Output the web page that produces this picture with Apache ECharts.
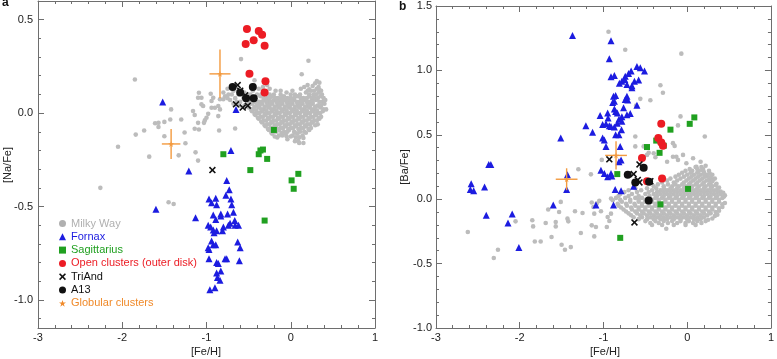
<!DOCTYPE html>
<html><head><meta charset="utf-8">
<script src="https://cdn.jsdelivr.net/npm/echarts@6/dist/echarts.min.js"></script>
<style>html,body{margin:0;padding:0;background:#fff}#c{width:777px;height:359px}</style>
</head><body><div id="c"></div>
<script>
// ---------------- DATA ----------------
const seriesNames = ['Milky Way','Fornax','Sagittarius','Open clusters (outer disk)','TriAnd','A13','Globular clusters'];
const xTicks = [-3,-2,-1,0,1];
const yTicksA = [-1.0,-0.5,0.0,0.5];
const yMinorTicksA = [-1.1,-1.0,-0.9,-0.8,-0.7,-0.6,-0.5,-0.4,-0.3,-0.2,-0.1,0.0,0.1,0.2,0.3,0.4,0.5,0.6];
const yTicksB = [-1.0,-0.5,0.0,0.5,1.0,1.5];

// Panel a: [Fe/H], [Na/Fe]
const milkyWayA = [
 [-2.26,-0.40],[-2.05,-0.18],[-1.85,0.18],[-1.84,-0.115],[-1.74,-0.093],[-1.68,-0.233],[-1.61,-0.054],[-1.57,-0.052],
 [-1.57,-0.074],[-1.50,-0.124],[-1.50,-0.047],[-1.45,-0.477],[-1.39,-0.486],[-1.42,0.02],[-1.43,-0.034],[-1.30,-0.034],
 [-1.33,-0.226],[-1.26,-0.104],[-1.25,-0.161],[-1.16,0.011],[-1.14,-0.01],[-1.14,-0.084],[-1.13,-0.21],[-1.10,-0.254],
 [-1.10,-0.052],[-1.09,-0.088],[-1.09,0.109],[-1.10,0.082],[-1.06,0.082],[-1.06,0.047],[-1.04,0.038],[-1.03,-0.052],
 [-1.02,-0.039],[-1.00,-0.025],[-0.98,-0.004],[-0.95,0.104],[-0.94,0.065],[-0.94,0.029],[-0.92,0.082],[-0.90,0.029],
 [-0.86,-0.016],[-0.86,0.038],[-0.84,0.074],[-0.84,0.02],[-0.85,-0.093],[-0.80,0.074],[-0.66,-0.082],[-0.59,0.289],
 [-0.43,0.176],[-0.44,0.15],[0.13,0.208],[0.21,0.28],[0.31,0.172],[0.34,0.163],[0.22,0.127],[0.15,-0.133],[0.05,-0.15],
 [0.09,-0.15],[-0.05,-0.124],
 [-0.28,0.15],[0.20,0.15],[0.29,0.16],[0.33,0.14],
 [-0.75,0.13],[-0.62,0.12],[-0.38,0.13],[-0.25,0.13],[-0.12,0.12],[0.12,0.13],[0.24,0.12],[0.31,0.13],[0.36,0.12],
 [-0.80,0.11],[-0.70,0.10],[-0.55,0.11],[-0.40,0.10],[-0.30,0.11],[-0.20,0.10],[-0.05,0.11],[0.05,0.10],[0.18,0.11],[0.27,0.10],[0.33,0.11],
 [-0.78,0.09],[-0.66,0.08],[-0.48,0.09],[-0.36,0.09],[-0.28,0.08],[-0.22,0.09],[-0.15,0.08],[-0.08,0.09],[0.00,0.08],[0.08,0.09],[0.15,0.08],[0.22,0.09],[0.28,0.08],[0.35,0.09],
 [-0.72,0.07],[-0.60,0.06],[-0.45,0.07],[-0.38,0.06],[-0.32,0.07],[-0.26,0.06],[-0.20,0.07],[-0.14,0.06],[-0.08,0.07],[-0.02,0.06],[0.04,0.07],[0.10,0.06],[0.16,0.07],[0.22,0.06],[0.30,0.07],[0.38,0.06],
 [-0.68,0.05],[-0.55,0.04],[-0.46,0.05],[-0.40,0.04],[-0.34,0.05],[-0.28,0.04],[-0.22,0.05],[-0.16,0.04],[-0.10,0.05],[-0.04,0.04],[0.02,0.05],[0.08,0.04],[0.14,0.05],[0.20,0.04],[0.26,0.05],[0.32,0.04],[0.40,0.05],
 [-0.50,0.03],[-0.44,0.02],[-0.38,0.03],[-0.32,0.02],[-0.26,0.03],[-0.20,0.02],[-0.14,0.03],[-0.08,0.02],[-0.02,0.03],[0.04,0.02],[0.10,0.03],[0.16,0.02],[0.22,0.03],[0.28,0.02],[0.35,0.03],[0.42,0.02],
 [-0.46,0.01],[-0.40,0.00],[-0.34,0.01],[-0.28,0.00],[-0.22,0.01],[-0.16,0.00],[-0.10,0.01],[-0.04,0.00],[0.02,0.01],[0.08,0.00],[0.14,0.01],[0.20,0.00],[0.26,0.01],[0.32,0.00],[0.38,0.01],
 [-0.42,-0.01],[-0.36,-0.02],[-0.30,-0.01],[-0.24,-0.02],[-0.18,-0.01],[-0.12,-0.02],[-0.06,-0.01],[0.00,-0.02],[0.06,-0.01],[0.12,-0.02],[0.18,-0.01],[0.24,-0.02],[0.30,-0.01],[0.36,-0.02],
 [-0.38,-0.03],[-0.32,-0.04],[-0.26,-0.03],[-0.20,-0.04],[-0.14,-0.03],[-0.08,-0.04],[-0.02,-0.03],[0.04,-0.04],[0.10,-0.03],[0.16,-0.04],[0.22,-0.03],[0.28,-0.04],[0.34,-0.03],
 [-0.34,-0.05],[-0.28,-0.06],[-0.22,-0.05],[-0.16,-0.06],[-0.10,-0.05],[-0.04,-0.06],[0.02,-0.05],[0.08,-0.06],[0.14,-0.05],[0.20,-0.06],[0.26,-0.05],[0.32,-0.06],
 [-0.30,-0.07],[-0.24,-0.08],[-0.18,-0.07],[-0.12,-0.08],[-0.06,-0.07],[0.00,-0.08],[0.06,-0.07],[0.12,-0.08],[0.18,-0.07],[0.24,-0.08],
 [-0.26,-0.09],[-0.20,-0.10],[-0.14,-0.09],[-0.08,-0.10],[-0.02,-0.09],[0.04,-0.10],[0.10,-0.09],[0.16,-0.10],[0.22,-0.09],
 [-0.22,-0.11],[-0.14,-0.12],[-0.06,-0.11],[0.02,-0.12],[0.08,-0.11],[0.14,-0.12],
 [-0.16,-0.13],[-0.04,-0.14],[0.06,-0.13],[0.10,-0.16],[0.15,-0.16],
 [-0.70,0.14],[-0.33,0.14],[0.16,0.14],[0.26,0.145],
 [-0.68,0.12],[-0.45,0.12],[-0.33,0.12],[-0.18,0.12],[0.02,0.12],[0.20,0.12],[0.28,0.12],[0.34,0.125],
 [-0.74,0.10],[-0.62,0.10],[-0.48,0.10],[-0.35,0.10],[-0.25,0.10],[-0.12,0.10],[0.00,0.10],[0.11,0.10],[0.22,0.10],[0.30,0.10],[0.37,0.10],
 [-0.75,0.08],[-0.56,0.08],[-0.42,0.08],[-0.32,0.08],[-0.25,0.08],[-0.18,0.08],[-0.11,0.08],[-0.04,0.08],[0.04,0.08],[0.12,0.08],[0.19,0.08],[0.25,0.08],[0.32,0.08],[0.39,0.08],
 [-0.64,0.06],[-0.50,0.06],[-0.42,0.06],[-0.35,0.06],[-0.29,0.06],[-0.23,0.06],[-0.17,0.06],[-0.11,0.06],[-0.05,0.06],[0.01,0.06],[0.07,0.06],[0.13,0.06],[0.19,0.06],[0.26,0.06],[0.34,0.06],[0.41,0.07],
 [-0.61,0.04],[-0.50,0.04],[-0.43,0.035],[-0.37,0.04],[-0.31,0.035],[-0.25,0.04],[-0.19,0.035],[-0.13,0.04],[-0.07,0.035],[-0.01,0.04],[0.05,0.035],[0.11,0.04],[0.17,0.035],[0.23,0.04],[0.29,0.035],[0.36,0.04],
 [-0.47,0.02],[-0.41,0.015],[-0.35,0.02],[-0.29,0.015],[-0.23,0.02],[-0.17,0.015],[-0.11,0.02],[-0.05,0.015],[0.01,0.02],[0.07,0.015],[0.13,0.02],[0.19,0.015],[0.25,0.02],[0.31,0.015],[0.39,0.02],
 [-0.43,-0.005],[-0.37,0.0],[-0.31,-0.005],[-0.25,0.0],[-0.19,-0.005],[-0.13,0.0],[-0.07,-0.005],[-0.01,0.0],[0.05,-0.005],[0.11,0.0],[0.17,-0.005],[0.23,0.0],[0.29,-0.005],[0.35,0.0],
 [-0.39,-0.025],[-0.33,-0.02],[-0.27,-0.025],[-0.21,-0.02],[-0.15,-0.025],[-0.09,-0.02],[-0.03,-0.025],[0.03,-0.02],[0.09,-0.025],[0.15,-0.02],[0.21,-0.025],[0.27,-0.02],[0.33,-0.025],
 [-0.35,-0.045],[-0.29,-0.04],[-0.23,-0.045],[-0.17,-0.04],[-0.11,-0.045],[-0.05,-0.04],[0.01,-0.045],[0.07,-0.04],[0.13,-0.045],[0.19,-0.04],[0.25,-0.045],[0.31,-0.04],
 [-0.31,-0.065],[-0.25,-0.06],[-0.19,-0.065],[-0.13,-0.06],[-0.07,-0.065],[-0.01,-0.06],[0.05,-0.065],[0.11,-0.06],[0.17,-0.065],[0.23,-0.06],[0.29,-0.065],
 [-0.27,-0.085],[-0.21,-0.08],[-0.15,-0.085],[-0.09,-0.08],[-0.03,-0.085],[0.03,-0.08],[0.09,-0.085],[0.15,-0.08],[0.21,-0.085],
 [-0.23,-0.105],[-0.17,-0.10],[-0.11,-0.105],[-0.04,-0.10],[0.05,-0.105],[0.11,-0.10],[0.18,-0.105],
 [-0.19,-0.125],[-0.10,-0.12],[0.00,-0.125],[0.10,-0.13]
];
const fornaxA = [
 [-1.52,0.06],[-0.65,0.02],[-0.71,-0.20],[-1.21,-0.31],[-1.60,-0.515],[-1.13,-0.56],
 [-0.76,-0.36],[-0.73,-0.41],[-0.77,-0.44],[-0.97,-0.46],[-0.89,-0.455],[-0.71,-0.46],[-0.94,-0.48],[-0.88,-0.49],
 [-0.70,-0.49],[-0.92,-0.545],[-0.83,-0.54],[-0.75,-0.54],[-0.68,-0.53],[-0.89,-0.57],[-0.83,-0.55],[-0.665,-0.575],
 [-0.98,-0.60],[-0.95,-0.61],[-0.74,-0.60],[-0.80,-0.61],[-0.72,-0.59],[-0.62,-0.60],[-0.66,-0.60],[-0.92,-0.625],
 [-0.88,-0.63],[-0.81,-0.63],[-0.91,-0.64],[-0.94,-0.685],[-0.98,-0.72],[-0.92,-0.705],[-0.89,-0.705],[-0.97,-0.73],
 [-0.63,-0.69],[-0.60,-0.72],[-0.97,-0.78],[-0.88,-0.80],[-0.86,-0.805],[-0.78,-0.78],[-0.76,-0.78],[-0.61,-0.79],
 [-0.88,-0.855],[-0.83,-0.845],[-0.87,-0.88],[-0.84,-0.895],[-0.96,-0.945],[-0.90,-0.935]
];
const sagittariusA = [
 [-0.80,-0.22],[-0.38,-0.22],[-0.36,-0.20],[-0.33,-0.195],[-0.28,-0.245],[-0.48,-0.305],
 [0.01,-0.36],[0.09,-0.325],[0.035,-0.405],[-0.31,-0.575],[-0.20,-0.09]
];
const openClustersA = [
 [-0.52,0.45],[-0.535,0.37],[-0.44,0.39],[-0.38,0.44],[-0.34,0.42],[-0.31,0.36],[-0.49,0.21],[-0.30,0.17],[-0.31,0.11]
];
const triAndA = [[-0.63,0.15],[-0.60,0.12],[-0.54,0.095],[-0.65,0.047],[-0.57,0.03],[-0.51,0.04],[-0.93,-0.305]];
const a13A = [[-0.69,0.14],[-0.45,0.14],[-0.53,0.08],[-0.44,0.08],[-0.60,0.11]];
const globularA = [[-0.84,0.21],[-1.42,-0.165]];
const globularErrXA = [0.125,0.11];
const globularErrYA = [0.13,0.08];

// Panel b: [Fe/H], [Ba/Fe]
const milkyWayB = [
 [-0.94,1.30],[-0.74,1.16],[-0.07,1.13],[-0.32,0.885],[-0.29,0.826],[-0.56,0.779],[-0.44,0.768],[-0.61,0.727],[-0.08,0.643],
 [-0.11,0.573],[0.21,0.487],[-0.62,0.41],[-0.52,0.41],[-0.48,0.344],[-0.17,0.435],[-0.24,0.291],[-0.13,0.33],[-0.62,0.487],
 [-0.46,0.36],[-0.38,0.326],[-0.40,0.357],[-0.15,0.414],[-1.15,0.193],[-1.30,0.232],[-2.62,-0.255],[-2.26,-0.393],[-2.31,-0.456],
 [-2.05,-0.172],[-1.85,-0.164],[-1.84,-0.211],[-1.82,-0.328],[-1.75,-0.328],[-1.69,-0.185],[-1.66,-0.080],[-1.62,-0.294],
 [-1.57,-0.177],[-1.57,-0.211],[-1.51,-0.021],[-1.53,-0.099],[-1.50,-0.354],[-1.46,-0.393],[-1.39,-0.372],[-1.43,-0.151],
 [-1.42,-0.172],[-1.34,-0.094],[-1.27,-0.263],[-1.25,-0.107],[-1.14,-0.026],[-1.12,-0.060],[-1.08,-0.034],[-1.14,-0.203],
 [-1.11,-0.112],[-1.09,-0.216],[-1.11,-0.289],[-1.05,-0.013],[-1.03,-0.094],[-1.02,0.305],[-0.95,-0.138],[-0.96,-0.216],
 [-0.93,-0.169],[-0.91,-0.112],[-0.91,0.005],[-0.89,-0.008],
 [-0.17,0.33],[-0.11,0.305],[-0.05,0.344],[-0.01,0.279],[0.07,0.318],[0.11,0.252],[0.16,0.291],[0.18,0.227],[0.24,0.19],[0.30,0.148],[0.28,0.109],
 [0.10,0.25],[0.17,0.25],[0.22,0.26],
 [-0.02,0.22],[0.06,0.22],[0.14,0.22],[0.20,0.21],[0.26,0.22],
 [-0.10,0.19],[0.00,0.19],[0.08,0.19],[0.16,0.19],[0.24,0.18],[0.30,0.19],
 [-0.20,0.16],[-0.08,0.16],[0.02,0.16],[0.10,0.16],[0.18,0.16],[0.26,0.15],[0.33,0.16],
 [-0.30,0.13],[-0.16,0.13],[-0.04,0.13],[0.04,0.13],[0.12,0.13],[0.20,0.13],[0.28,0.13],[0.35,0.12],
 [-0.40,0.10],[-0.28,0.10],[-0.18,0.10],[-0.10,0.10],[-0.02,0.10],[0.06,0.10],[0.14,0.10],[0.22,0.10],[0.30,0.10],[0.38,0.09],
 [-0.70,0.07],[-0.55,0.07],[-0.42,0.07],[-0.32,0.07],[-0.24,0.07],[-0.16,0.07],[-0.08,0.07],[0.00,0.07],[0.08,0.07],[0.16,0.07],[0.24,0.07],[0.32,0.07],[0.40,0.06],
 [-0.80,0.04],[-0.66,0.04],[-0.50,0.04],[-0.40,0.04],[-0.32,0.04],[-0.24,0.04],[-0.16,0.04],[-0.08,0.04],[0.00,0.04],[0.08,0.04],[0.16,0.04],[0.24,0.04],[0.32,0.04],[0.40,0.04],[0.45,0.03],
 [-0.85,0.01],[-0.74,0.01],[-0.62,0.01],[-0.54,0.01],[-0.46,0.01],[-0.38,0.01],[-0.30,0.01],[-0.22,0.01],[-0.14,0.01],[-0.06,0.01],[0.02,0.01],[0.10,0.01],[0.18,0.01],[0.26,0.01],[0.34,0.01],[0.42,0.01],
 [-0.78,-0.02],[-0.68,-0.02],[-0.58,-0.02],[-0.50,-0.02],[-0.42,-0.02],[-0.34,-0.02],[-0.26,-0.02],[-0.18,-0.02],[-0.10,-0.02],[-0.02,-0.02],[0.06,-0.02],[0.14,-0.02],[0.22,-0.02],[0.30,-0.02],[0.38,-0.02],[0.45,-0.03],
 [-0.82,-0.05],[-0.72,-0.05],[-0.62,-0.05],[-0.54,-0.05],[-0.46,-0.05],[-0.38,-0.05],[-0.30,-0.05],[-0.22,-0.05],[-0.14,-0.05],[-0.06,-0.05],[0.02,-0.05],[0.10,-0.05],[0.18,-0.05],[0.26,-0.05],[0.34,-0.05],[0.42,-0.06],
 [-0.76,-0.08],[-0.66,-0.08],[-0.58,-0.08],[-0.50,-0.08],[-0.42,-0.08],[-0.34,-0.08],[-0.26,-0.08],[-0.18,-0.08],[-0.10,-0.08],[-0.02,-0.08],[0.06,-0.08],[0.14,-0.08],[0.22,-0.08],[0.30,-0.08],[0.38,-0.09],
 [-0.70,-0.11],[-0.60,-0.11],[-0.52,-0.11],[-0.44,-0.11],[-0.36,-0.11],[-0.28,-0.11],[-0.20,-0.11],[-0.12,-0.11],[-0.04,-0.11],[0.04,-0.11],[0.12,-0.11],[0.20,-0.11],[0.28,-0.11],[0.36,-0.12],
 [-0.64,-0.14],[-0.54,-0.14],[-0.44,-0.14],[-0.36,-0.14],[-0.28,-0.14],[-0.20,-0.14],[-0.12,-0.14],[-0.04,-0.14],[0.04,-0.14],[0.12,-0.14],[0.20,-0.14],[0.30,-0.15],
 [-0.50,-0.17],[-0.38,-0.17],[-0.28,-0.17],[-0.18,-0.17],[-0.08,-0.17],[0.02,-0.17],[0.12,-0.17],[0.22,-0.17],
 [-0.42,-0.20],[-0.30,-0.20],[-0.16,-0.20],[-0.02,-0.20],[0.10,-0.20],[-0.25,-0.23],
 [0.03,0.235],[0.12,0.235],[0.19,0.235],
 [-0.06,0.205],[0.04,0.205],[0.12,0.205],[0.20,0.195],[0.27,0.20],
 [-0.14,0.175],[-0.04,0.175],[0.05,0.175],[0.13,0.175],[0.21,0.175],[0.28,0.17],
 [-0.24,0.145],[-0.12,0.145],[-0.01,0.145],[0.07,0.145],[0.15,0.145],[0.23,0.145],[0.30,0.14],
 [-0.35,0.115],[-0.23,0.115],[-0.14,0.115],[-0.06,0.115],[0.02,0.115],[0.10,0.115],[0.18,0.115],[0.26,0.115],[0.34,0.11],
 [-0.62,0.085],[-0.48,0.085],[-0.37,0.085],[-0.28,0.085],[-0.20,0.085],[-0.12,0.085],[-0.04,0.085],[0.04,0.085],[0.12,0.085],[0.20,0.085],[0.28,0.085],[0.36,0.08],
 [-0.75,0.055],[-0.60,0.055],[-0.46,0.055],[-0.36,0.055],[-0.28,0.055],[-0.20,0.055],[-0.12,0.055],[-0.04,0.055],[0.04,0.055],[0.12,0.055],[0.20,0.055],[0.28,0.055],[0.36,0.055],[0.43,0.05],
 [-0.82,0.025],[-0.70,0.025],[-0.58,0.025],[-0.45,0.025],[-0.36,0.025],[-0.28,0.025],[-0.20,0.025],[-0.12,0.025],[-0.04,0.025],[0.04,0.025],[0.12,0.025],[0.20,0.025],[0.28,0.025],[0.36,0.025],[0.44,0.02],
 [-0.80,-0.005],[-0.68,-0.005],[-0.58,-0.005],[-0.50,-0.005],[-0.42,-0.005],[-0.34,-0.005],[-0.26,-0.005],[-0.18,-0.005],[-0.10,-0.005],[-0.02,-0.005],[0.06,-0.005],[0.14,-0.005],[0.22,-0.005],[0.30,-0.005],[0.38,-0.005],
 [-0.83,-0.035],[-0.73,-0.035],[-0.63,-0.035],[-0.54,-0.035],[-0.46,-0.035],[-0.38,-0.035],[-0.30,-0.035],[-0.22,-0.035],[-0.14,-0.035],[-0.06,-0.035],[0.02,-0.035],[0.10,-0.035],[0.18,-0.035],[0.26,-0.035],[0.34,-0.035],[0.42,-0.04],
 [-0.79,-0.065],[-0.67,-0.065],[-0.58,-0.065],[-0.50,-0.065],[-0.42,-0.065],[-0.34,-0.065],[-0.26,-0.065],[-0.18,-0.065],[-0.10,-0.065],[-0.02,-0.065],[0.06,-0.065],[0.14,-0.065],[0.22,-0.065],[0.30,-0.065],[0.38,-0.07],
 [-0.73,-0.095],[-0.62,-0.095],[-0.54,-0.095],[-0.46,-0.095],[-0.38,-0.095],[-0.30,-0.095],[-0.22,-0.095],[-0.14,-0.095],[-0.06,-0.095],[0.02,-0.095],[0.10,-0.095],[0.18,-0.095],[0.26,-0.095],[0.34,-0.10],
 [-0.67,-0.125],[-0.56,-0.125],[-0.48,-0.125],[-0.40,-0.125],[-0.32,-0.125],[-0.24,-0.125],[-0.16,-0.125],[-0.08,-0.125],[0.00,-0.125],[0.08,-0.125],[0.16,-0.125],[0.24,-0.125],[0.33,-0.13],
 [-0.58,-0.155],[-0.48,-0.155],[-0.40,-0.155],[-0.32,-0.155],[-0.24,-0.155],[-0.16,-0.155],[-0.08,-0.155],[0.00,-0.155],[0.08,-0.155],[0.16,-0.155],[0.25,-0.16],
 [-0.44,-0.185],[-0.34,-0.185],[-0.23,-0.185],[-0.12,-0.185],[-0.02,-0.185],[0.07,-0.185],[0.17,-0.185]
];
const fornaxB = [
 [-1.37,1.27],[-0.91,1.23],[-0.93,1.09],[-0.91,0.95],[-0.87,0.96],[-0.81,0.90],[-0.78,0.915],[-0.74,0.955],[-0.70,0.975],
 [-0.67,0.995],[-0.745,0.93],[-0.72,0.89],[-0.66,0.88],[-0.63,0.915],[-0.58,0.925],[-0.60,1.03],[-0.56,1.02],[-0.51,0.995],
 [-0.66,0.865],[-0.88,0.80],[-0.855,0.805],[-0.89,0.75],[-0.87,0.76],[-0.72,0.80],[-0.71,0.77],[-0.74,0.775],[-0.60,0.73],
 [-0.87,0.70],[-0.855,0.68],[-0.835,0.67],[-0.76,0.71],[-1.04,0.65],[-0.95,0.67],[-0.945,0.63],[-0.78,0.64],[-0.815,0.62],
 [-0.72,0.655],[-0.68,0.665],[-1.01,0.58],[-0.97,0.585],[-0.93,0.57],[-0.91,0.565],[-0.87,0.56],[-0.835,0.59],[-0.78,0.605],
 [-1.21,0.57],[-1.13,0.52],[-0.855,0.50],[-0.815,0.50],[-0.785,0.54],[-1.51,0.475],[-1.01,0.475],[-0.99,0.46],[-0.97,0.41],
 [-0.80,0.41],[-0.815,0.29],[-0.79,0.305],[-1.03,0.225],[-0.99,0.20],[-0.91,0.20],[-0.95,0.175],[-0.90,0.18],[-1.43,0.19],
 [-2.37,0.27],[-2.345,0.27],[-2.58,0.12],[-2.59,0.075],[-2.55,0.065],[-2.42,0.095],[-2.40,-0.125],[-2.09,-0.115],
 [-2.14,-0.185],[-2.01,-0.375],[-1.60,-0.045],[-1.44,0.075],[-1.09,-0.045],[-0.88,-0.045],[-0.86,0.075],[-0.79,0.065],[-0.64,0.10]
];
const sagittariusB = [
 [0.085,0.635],[0.03,0.585],[-0.20,0.54],[-0.37,0.455],[-0.28,0.415],[-0.48,0.405],[-0.33,0.36],[-0.835,0.195],
 [0.01,0.08],[-0.32,-0.04],[-0.80,-0.30]
];
const openClustersB = [[-0.31,0.585],[-0.345,0.475],[-0.31,0.44],[-0.29,0.415],[-0.54,0.32],[-0.30,0.16],[-0.48,0.14]];
const triAndB = [[-0.93,0.31],[-0.57,0.27],[-0.64,0.195],[-0.59,0.15],[-0.57,0.13],[-0.44,0.14],[-0.63,-0.18]];
const a13B = [[-0.71,0.19],[-0.52,0.245],[-0.62,0.13],[-0.455,0.135],[-0.46,-0.01]];
const globularB = [[-0.85,0.34],[-1.44,0.155]];
const globularErrXB = [0.13,0.13];
const globularErrYB = [0.11,0.085];

// ---------------- STYLE ----------------
const C = {mw:'#bcbcbc', fx:'#1c1ce0', sg:'#20a020', oc:'#ec1c24', ta:'#111111', a13:'#111111', gc:'#f39a3f'};
const AX = '#6e6e6e', LBL = '#222', FONT = 'Liberation Sans, Arial, sans-serif';
const XPATH = 'path://M0,1.6L1.6,0L5,3.4L8.4,0L10,1.6L6.6,5L10,8.4L8.4,10L5,6.6L1.6,10L0,8.4L3.4,5Z';
const STAR = 'path://M5,0L6.2,3.6L10,3.6L6.9,5.9L8.1,9.5L5,7.3L1.9,9.5L3.1,5.9L0,3.6L3.8,3.6Z';

function fmt1(v){ return (Math.abs(v)<1e-9?0:v).toFixed(1); }

function xAxis(grid, pos, showLabel){
  return {type:'value', gridIndex:grid, position:pos, min:xTicks[0], max:xTicks[xTicks.length-1], interval:1,
    axisLine:{show:true, onZero:false, lineStyle:{color:AX, width:1}},
    axisTick:{show:true, inside:true, length:6, lineStyle:{color:AX}},
    minorTick:{show:true, splitNumber:5, length:3, lineStyle:{color:AX}},
    splitLine:{show:false}, minorSplitLine:{show:false},
    axisLabel:{show:showLabel, color:LBL, fontSize:11, fontFamily:FONT, margin:4, formatter:v=>String(v)}};
}
const yAxes = [
  {type:'value', gridIndex:0, position:'left', min:-1.15, max:0.6,
   axisLine:{show:true, onZero:false, lineStyle:{color:AX}}, splitLine:{show:false},
   axisTick:{show:true, inside:true, length:6, customValues:yTicksA, lineStyle:{color:AX}},
   axisLabel:{show:true, customValues:yTicksA, color:LBL, fontSize:11, fontFamily:FONT, margin:5, formatter:fmt1}},
  {type:'value', gridIndex:0, position:'left', min:-1.15, max:0.6,
   axisLine:{show:false, onZero:false}, splitLine:{show:false}, axisLabel:{show:false},
   axisTick:{show:true, inside:true, length:3, customValues:yMinorTicksA, lineStyle:{color:AX}}},
  {type:'value', gridIndex:0, position:'right', min:-1.15, max:0.6,
   axisLine:{show:true, onZero:false, lineStyle:{color:AX}}, splitLine:{show:false}, axisLabel:{show:false},
   axisTick:{show:true, inside:true, length:6, customValues:yTicksA, lineStyle:{color:AX}}},
  {type:'value', gridIndex:0, position:'right', min:-1.15, max:0.6,
   axisLine:{show:false, onZero:false}, splitLine:{show:false}, axisLabel:{show:false},
   axisTick:{show:true, inside:true, length:3, customValues:yMinorTicksA, lineStyle:{color:AX}}},
  {type:'value', gridIndex:1, position:'left', min:yTicksB[0], max:yTicksB[yTicksB.length-1], interval:0.5,
   axisLine:{show:true, onZero:false, lineStyle:{color:AX}}, splitLine:{show:false}, minorSplitLine:{show:false},
   axisTick:{show:true, inside:true, length:6, lineStyle:{color:AX}},
   minorTick:{show:true, splitNumber:5, length:3, lineStyle:{color:AX}},
   axisLabel:{show:true, color:LBL, fontSize:11, fontFamily:FONT, margin:4, formatter:fmt1}},
  {type:'value', gridIndex:1, position:'right', min:yTicksB[0], max:yTicksB[yTicksB.length-1], interval:0.5,
   axisLine:{show:true, onZero:false, lineStyle:{color:AX}}, splitLine:{show:false}, minorSplitLine:{show:false},
   axisTick:{show:true, inside:true, length:6, lineStyle:{color:AX}},
   minorTick:{show:true, splitNumber:5, length:3, lineStyle:{color:AX}},
   axisLabel:{show:false}}
];

function scatter(name, data, xi, yi, symbol, size, color, z){
  return {type:'scatter', name, data, xAxisIndex:xi, yAxisIndex:yi, symbol, symbolSize:size,
    itemStyle:{color, opacity:1}, z, silent:true, animation:false, large:false};
}
function errData(pts, ex, ey){ return pts.map((p,i)=>[p[0],p[1],ex[i],ey[i]]); }
function errSeries(data, xi, yi){
  return {type:'custom', name:'Globular clusters', xAxisIndex:xi, yAxisIndex:yi, data, z:8, silent:true, animation:false,
    encode:{x:0, y:1},
    renderItem:(params, api)=>{
      const x=api.value(0), y=api.value(1), ex=api.value(2), ey=api.value(3);
      const l=api.coord([x-ex,y]), r=api.coord([x+ex,y]), t=api.coord([x,y+ey]), b=api.coord([x,y-ey]);
      const st={stroke:C.gc, lineWidth:1.4};
      return {type:'group', children:[
        {type:'line', shape:{x1:l[0],y1:l[1],x2:r[0],y2:r[1]}, style:st},
        {type:'line', shape:{x1:t[0],y1:t[1],x2:b[0],y2:b[1]}, style:st}]};
    }};
}

const series = [
  scatter('Milky Way', milkyWayA, 0, 0, 'circle', 4.6, C.mw, 2),
  scatter('Fornax', fornaxA, 0, 0, 'triangle', 7, C.fx, 3),
  scatter('Sagittarius', sagittariusA, 0, 0, 'rect', 6, C.sg, 4),
  scatter('Open clusters (outer disk)', openClustersA, 0, 0, 'circle', 8, C.oc, 5),
  scatter('TriAnd', triAndA, 0, 0, XPATH, 7, C.ta, 6),
  scatter('A13', a13A, 0, 0, 'circle', 8, C.a13, 7),
  errSeries(errData(globularA, globularErrXA, globularErrYA), 0, 0),
  scatter('Globular clusters', globularA, 0, 0, STAR, 6, C.gc, 9),

  scatter('Milky Way', milkyWayB, 2, 4, 'circle', 4.6, C.mw, 2),
  scatter('Fornax', fornaxB, 2, 4, 'triangle', 7, C.fx, 3),
  scatter('Sagittarius', sagittariusB, 2, 4, 'rect', 6, C.sg, 4),
  scatter('Open clusters (outer disk)', openClustersB, 2, 4, 'circle', 8, C.oc, 5),
  scatter('TriAnd', triAndB, 2, 4, XPATH, 7, C.ta, 6),
  scatter('A13', a13B, 2, 4, 'circle', 8, C.a13, 7),
  errSeries(errData(globularB, globularErrXB, globularErrYB), 2, 4),
  scatter('Globular clusters', globularB, 2, 4, STAR, 6, C.gc, 9)
];

const legendIcons = ['circle','triangle','rect','circle',XPATH,'circle',STAR];
const legendColors = ['#b0b0b0',C.fx,C.sg,C.oc,'#111','#111','#f08a2a'];

const option = {
  animation:false,
  backgroundColor:'#fff',
  grid:[
    {left:38, right:402, top:1, bottom:31, containLabel:false},
    {left:436, right:2, top:6, bottom:31, containLabel:false}
  ],
  xAxis:[xAxis(0,'bottom',true), xAxis(0,'top',false), xAxis(1,'bottom',true), xAxis(1,'top',false)],
  yAxis:yAxes,
  legend:{orient:'vertical', left:59, top:218, padding:0, itemGap:2.3, itemWidth:7, itemHeight:7,
    selectedMode:false, textStyle:{fontSize:11, lineHeight:11, fontFamily:FONT},
    data: seriesNames.map((n,i)=>({name:n, icon:legendIcons[i], itemStyle:{color:legendColors[i]}, textStyle:{color:legendColors[i]}}))},
  graphic:[
    {type:'text', left:2, top:-3, style:{text:'a', font:'bold 12px '+FONT, fill:'#111'}},
    {type:'text', left:399, top:1, style:{text:'b', font:'bold 12px '+FONT, fill:'#111'}},
    {type:'text', x:8, y:165, rotation:Math.PI/2, style:{text:'[Na/Fe]', font:'11px '+FONT, fill:LBL, align:'center', verticalAlign:'middle'}},
    {type:'text', x:405, y:167, rotation:Math.PI/2, style:{text:'[Ba/Fe]', font:'11px '+FONT, fill:LBL, align:'center', verticalAlign:'middle'}},
    {type:'text', x:206, y:352, style:{text:'[Fe/H]', font:'11px '+FONT, fill:LBL, align:'center', verticalAlign:'middle'}},
    {type:'text', x:605, y:352, style:{text:'[Fe/H]', font:'11px '+FONT, fill:LBL, align:'center', verticalAlign:'middle'}}
  ],
  series
};
const chart = echarts.init(document.getElementById('c'), null, {renderer:'canvas'});
chart.setOption(option);
</script></body></html>
